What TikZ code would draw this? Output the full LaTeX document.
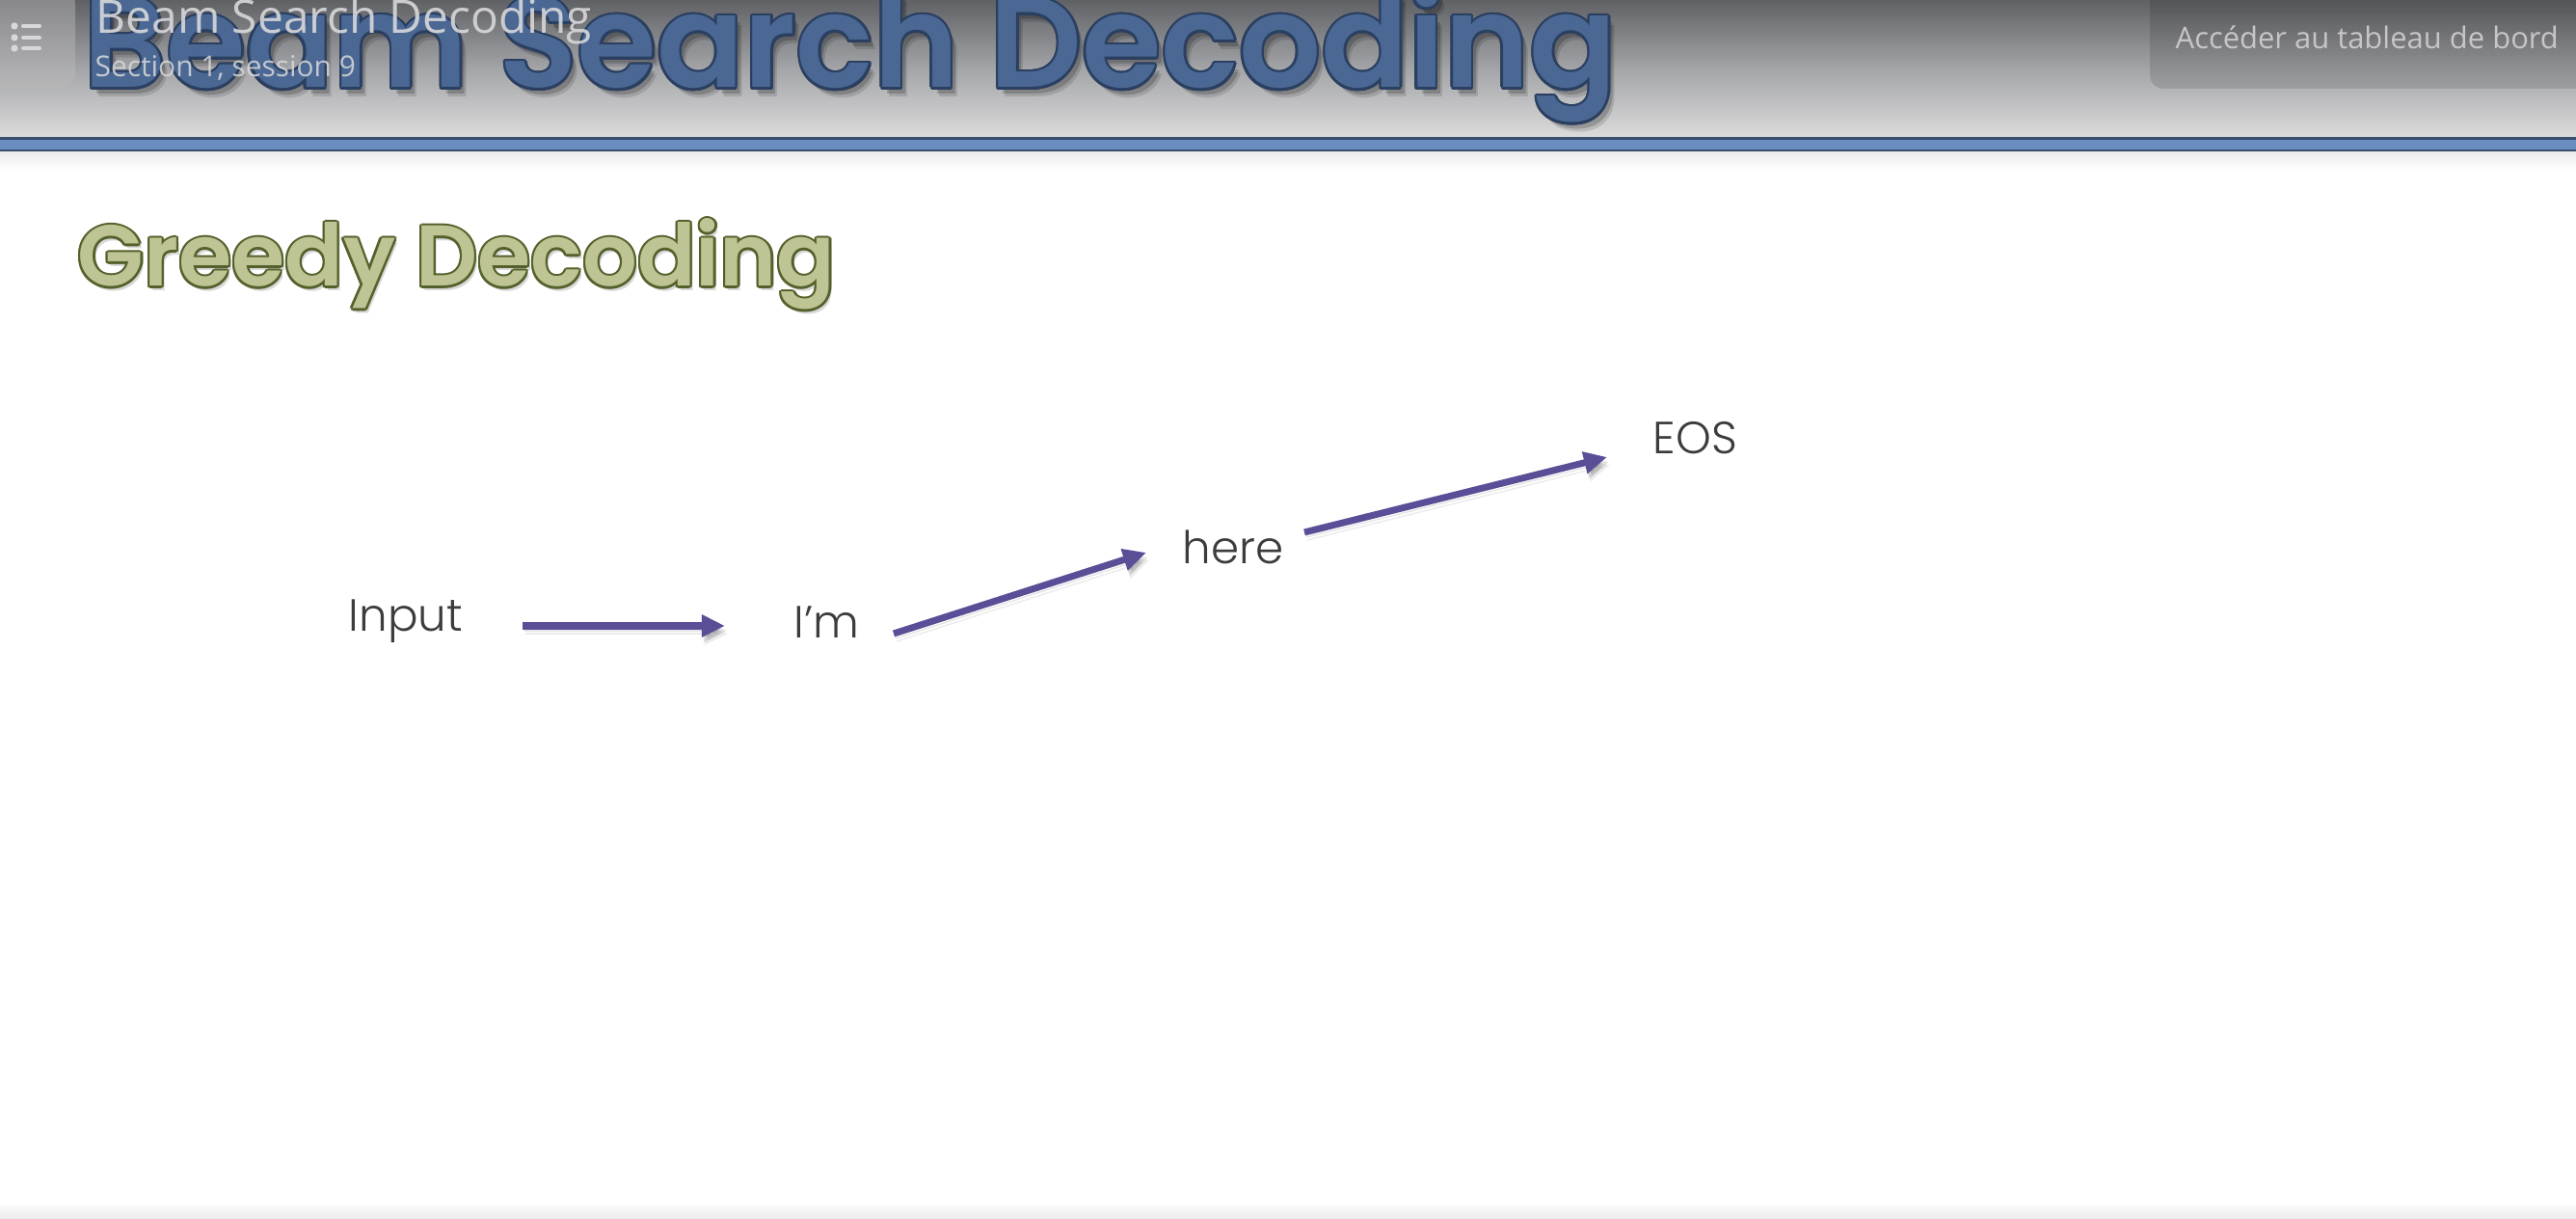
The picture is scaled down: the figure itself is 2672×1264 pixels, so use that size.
\documentclass[tikz,border=0pt]{standalone}
\usepackage{fontspec}
\setmainfont{Poppins}
\usetikzlibrary{arrows.meta,calc}
\IfFontExistsTF{Poppins Light}{\newfontfamily\lightfont{Poppins Light}}{\newfontfamily\lightfont{Poppins}}
\IfFontExistsTF{Poppins SemiBold}{\newfontfamily\headfont{Poppins SemiBold}}{\newfontfamily\headfont{Poppins}[UprightFont=*-Bold]}
\newfontfamily\osfont{Open Sans}
\definecolor{hdrtop}{HTML}{606165}
\definecolor{hdrmid}{HTML}{A4A5A8}
\definecolor{hdrbot}{HTML}{DCDCDC}
\definecolor{rulebl}{HTML}{6A8DC0}
\definecolor{ruledk}{HTML}{3A4F70}
\definecolor{titlefill}{HTML}{4A6893}
\definecolor{titleline}{HTML}{2B3F60}
\definecolor{greedfill}{HTML}{BFC494}
\definecolor{greedline}{HTML}{55612C}
\definecolor{arrcol}{HTML}{5A4F97}
\definecolor{wordcol}{HTML}{3C3C3C}
\definecolor{hdrtxt}{HTML}{D8D8DA}
\definecolor{btntxt}{HTML}{C6C6C9}
\newcommand\outlinedtext[7]{%
  \foreach \ang in {0,30,...,330}{%
    \node[anchor=base west, inner sep=0, text=#5] (#1-o\ang) at ($(#2)+(\ang:#6)$) {#3#7};
  }%
  \node[anchor=base west, inner sep=0, text=#4] (#1) at (#2) {#3#7};
}
\tikzset{
  word/.style={anchor=base west, inner sep=0, text=wordcol, font=\lightfont\fontsize{13.3}{13.3}\selectfont},
  arr/.style={draw=arrcol, line width=0.07cm, -{Triangle[length=0.24cm,width=0.22cm]},
    preaction={draw=black, opacity=0.10, transform canvas={shift={(0.02cm,-0.05cm)}}},
    preaction={draw=black, opacity=0.08, transform canvas={shift={(0.03cm,-0.08cm)}}}},
  hdrlabel/.style={anchor=base west, inner sep=0, text=hdrtxt}
}
\begin{document}
\begin{tikzpicture}[x=0.01cm, y=-0.01cm]
\useasboundingbox (0,0) rectangle (2672,1264);
\fill[white] (0,0) rectangle (2672,1264);
% header gradient
\shade[top color=hdrtop, bottom color=hdrbot, middle color=hdrmid] (0,0) rectangle (2672,143);
% big title with shadow and outline
\node[anchor=base west, inner sep=0, text=black, opacity=0.18] (bt-sh1) at (91,98) {\headfont\fontsize{38}{38}\selectfont Beam Search Decoding};
\node[anchor=base west, inner sep=0, text=black, opacity=0.12] (bt-sh2) at (93,101) {\headfont\fontsize{38}{38}\selectfont Beam Search Decoding};
\outlinedtext{bt}{86,91}{\headfont\fontsize{38}{38}\selectfont}{titlefill}{titleline}{2.5}{Beam Search Decoding}
% left icon box
\fill[gray!55, opacity=0.45, rounded corners=4] (-10,-10) rectangle (78,91);
\foreach \yy [count=\k] in {27,39,50}{
  \fill[hdrtxt] (15,\yy) circle[radius=3.6];
  \draw[hdrtxt, line width=0.04cm, line cap=round] (24,\yy) -- (41,\yy);
}
% small header labels
\node[hdrlabel, opacity=0.9] (hsub1) at (99,35) {\osfont\fontsize{13.6}{13.6}\selectfont Beam Search Decoding};
\node[hdrlabel, opacity=0.85] (hsub2) at (98,80) {\osfont\fontsize{8.5}{8.5}\selectfont Section 1, session 9};
% dashboard button
\fill[black, opacity=0.12, rounded corners=4] (2230,-10) rectangle (2690,92);
\node[anchor=base west, inner sep=0, text=btntxt] (btn) at (2256,51) {\osfont\fontsize{8.8}{8.8}\selectfont Accéder au tableau de bord};
% blue rule
\fill[ruledk] (0,142) rectangle (2672,158);
\fill[rulebl] (0,145) rectangle (2672,155);
\shade[top color=black!7, bottom color=white] (0,158) rectangle (2672,176);
% bottom edge
\shade[top color=white, bottom color=black!8] (0,1246) rectangle (2672,1264);
% section title
\node[anchor=base west, inner sep=0, text=black, opacity=0.15] (gd-sh) at (83,302) {\headfont\fontsize{25.4}{25.4}\selectfont Greedy Decoding};
\outlinedtext{gd}{80,297}{\headfont\fontsize{25.4}{25.4}\selectfont}{greedfill}{greedline}{2.3}{Greedy Decoding}
% words
\node[word] (inp) at (361,654) {Input};
\node[word] (im) at (823,662) {I’m};
\node[word] (here) at (1226,584) {here};
\node[word] (eos) at (1714,471) {EOS};
% connector ends
\coordinate (a1s) at ($(inp.base west)+(181,-5)$);
\coordinate (a1e) at ($(im.base west)+(-71,-13)$);
\coordinate (a2s) at ($(im.base west)+(104,-5)$);
\coordinate (a2e) at ($(here.base west)+(-37,-11)$);
\coordinate (a3s) at ($(here.base west)+(127,-32)$);
\coordinate (a3e) at ($(eos.base west)+(-47,3)$);
\draw[arr] (a1s) -- (a1e);
\draw[arr] (a2s) -- (a2e);
\draw[arr] (a3s) -- (a3e);
\end{tikzpicture}
\end{document}
